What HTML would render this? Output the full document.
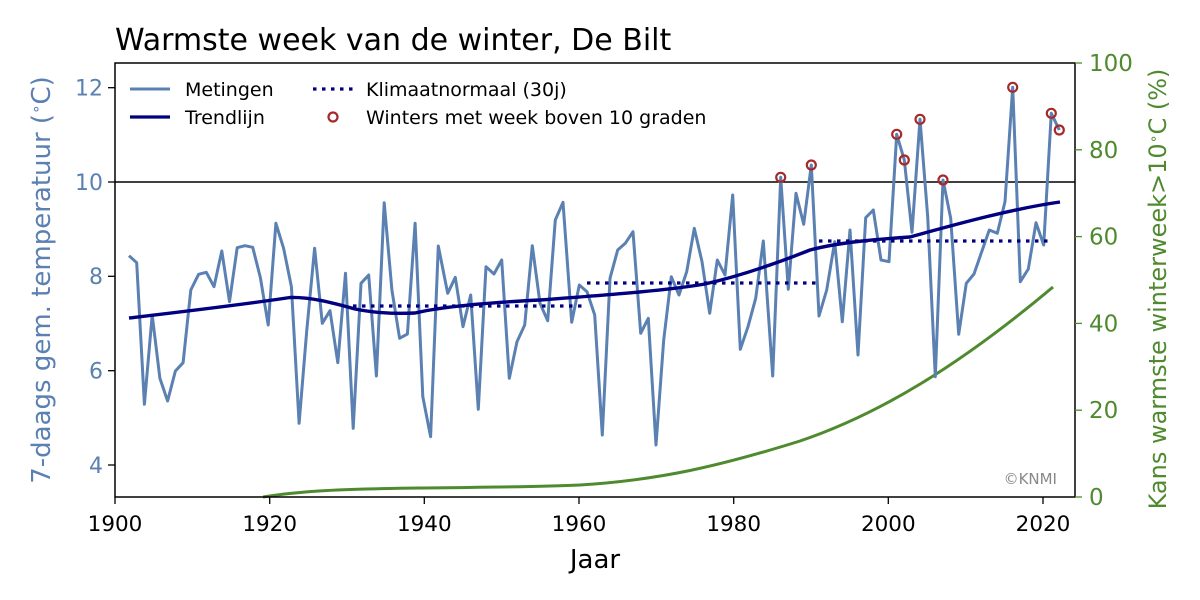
<!DOCTYPE html>
<html><head><meta charset="utf-8"><style>body{margin:0;background:#fff}svg{display:block}text{font-family:"DejaVu Sans","Liberation Sans",sans-serif}</style></head><body>
<svg width="1200" height="600" viewBox="0 0 1200 600" xmlns="http://www.w3.org/2000/svg">
<rect width="1200" height="600" fill="#fff"/>
<text x="115" y="50" font-size="30" fill="#000">Warmste week van de winter, De Bilt</text>
<line x1="115" y1="182" x2="1075" y2="182" stroke="#000" stroke-width="1.5"/>
<g fill="none" stroke-linejoin="round">
<path stroke="#4f8a2f" stroke-width="3" d="M263,497 C300,491 340,489 420,488 C500,487 540,487 580,485 C660,480 720,466 800,441 C880,414 960,365 1053,287"/>
<polyline stroke="#5b80b2" stroke-width="3" points="129,255.7 136.7,262.7 144.4,404.3 152.2,315 159.9,378.3 167.6,401 175.4,371 183.1,362.7 190.8,290 198.6,274.3 206.3,272.3 214,286.7 221.8,251 229.5,301.7 237.2,247.7 245,245.7 252.7,247.3 260.4,277.7 268.2,325 275.9,223.3 283.6,248.3 291.4,286.7 299.1,423.3 306.8,330 314.6,248.3 322.3,323.3 330,310.7 337.8,362.7 345.5,273.3 353.2,428.3 361,283.3 368.7,275 376.4,376 384.2,202.7 391.9,290 399.6,338.3 407.4,334 415.1,223.3 422.8,396.7 430.6,436.7 438.3,246 447.7,293.3 455.3,277.3 463,326.7 470.7,295 478.3,409.3 486,266.7 494,274 501.7,260 509.3,378.3 517,341.7 524.7,325 532.3,245.7 540,303.3 547.7,320.7 555.3,220 563,202.3 571.7,322.3 579.3,285 587,291.7 594.7,315 602.3,435 610,278.3 617.7,250 625.3,243.3 633,231.7 640.7,333.3 648.3,318.3 656,445 663.7,340 671.3,276.7 679,295 686.7,271.7 694.3,228.3 702,261.7 709.7,313.3 717.3,260 725,275 732.7,195 740.3,349.3 748,326.7 755.7,298.3 763.3,241 772.7,376 780.7,177.3 788.3,289.3 796,193.3 803.7,224.3 811.3,165 819,316 826.7,290 834.7,241.7 842.3,321.7 850,230 858,355 865.7,217.7 873.3,210 881,260 889,261.7 896.7,134.3 904.3,160 912,232.3 920,119.3 927.7,216.7 935.3,376.7 943,180 950.7,218.3 958.7,334.3 966.3,283.3 974,274 981.7,251.7 989.3,230 997.3,233.3 1005,201.7 1012.7,87.3 1020.3,281.7 1028.3,269 1036,222.7 1043.7,245 1051.3,113.3 1059.3,130"/>
<path stroke="#000080" stroke-width="3.4" d="M129,318 C180,312 240,305 290,297.5 C310,297 330,302 355,309 C375,313 395,314 415,313 C440,307 480,303 540,300 C620,294 670,290 705,284 C740,276 780,262 810,250 C840,242 880,239 910,237 C950,226 1010,209 1060,202"/>
<g stroke="#000080" stroke-width="3.2" stroke-dasharray="3.5,5.5">
<line x1="353" y1="306" x2="587" y2="306"/>
<line x1="587" y1="283" x2="819" y2="283"/>
<line x1="819" y1="241" x2="1051" y2="241"/>
</g>
<g stroke="#a52a2a" stroke-width="2.2">
<circle cx="780.7" cy="177.3" r="4.5"/><circle cx="811.3" cy="165" r="4.5"/><circle cx="896.7" cy="134.3" r="4.5"/><circle cx="904.3" cy="160" r="4.5"/><circle cx="920" cy="119.3" r="4.5"/><circle cx="943" cy="180" r="4.5"/><circle cx="1012.7" cy="87.3" r="4.5"/><circle cx="1051.3" cy="113.3" r="4.5"/><circle cx="1059.3" cy="130" r="4.5"/>
</g>
</g>
<rect x="115" y="63" width="960" height="434" fill="none" stroke="#000" stroke-width="1.5"/>
<g stroke="#000" stroke-width="1.3">
<line x1="115" y1="497" x2="115" y2="504"/><line x1="269.7" y1="497" x2="269.7" y2="504"/><line x1="424.3" y1="497" x2="424.3" y2="504"/><line x1="579" y1="497" x2="579" y2="504"/><line x1="733.7" y1="497" x2="733.7" y2="504"/><line x1="888.3" y1="497" x2="888.3" y2="504"/><line x1="1043" y1="497" x2="1043" y2="504"/>
</g>
<g font-size="21.5" fill="#000" text-anchor="middle">
<text x="115" y="531">1900</text><text x="269.7" y="531">1920</text><text x="424.3" y="531">1940</text><text x="579" y="531">1960</text><text x="733.7" y="531">1980</text><text x="888.3" y="531">2000</text><text x="1043" y="531">2020</text>
</g>
<text x="595" y="568" font-size="26" text-anchor="middle">Jaar</text>
<g stroke="#000" stroke-width="1.3">
<line x1="108" y1="87.7" x2="115" y2="87.7"/><line x1="108" y1="182" x2="115" y2="182"/><line x1="108" y1="276.3" x2="115" y2="276.3"/><line x1="108" y1="370.7" x2="115" y2="370.7"/><line x1="108" y1="465" x2="115" y2="465"/>
</g>
<g font-size="22" fill="#5b80b2" text-anchor="end">
<text x="103" y="95.5">12</text><text x="103" y="190">10</text><text x="103" y="284">8</text><text x="103" y="378.5">6</text><text x="103" y="473">4</text>
</g>
<text transform="translate(50,280) rotate(-90)" font-size="26" fill="#5b80b2" text-anchor="middle">7-daags gem. temperatuur (<tspan baseline-shift="super" font-size="15">∘</tspan>C)</text>
<g stroke="#4f8a2f" stroke-width="1.3">
<line x1="1075" y1="63" x2="1082" y2="63"/><line x1="1075" y1="149.8" x2="1082" y2="149.8"/><line x1="1075" y1="236.6" x2="1082" y2="236.6"/><line x1="1075" y1="323.4" x2="1082" y2="323.4"/><line x1="1075" y1="410.2" x2="1082" y2="410.2"/><line x1="1075" y1="497" x2="1082" y2="497"/>
</g>
<g font-size="23" fill="#4f8a2f">
<text x="1089" y="71">100</text><text x="1089" y="158">80</text><text x="1089" y="244.5">60</text><text x="1089" y="331.5">40</text><text x="1089" y="418">20</text><text x="1089" y="505">0</text>
</g>
<text transform="translate(1166,289) rotate(-90)" font-size="24" fill="#4f8a2f" text-anchor="middle">Kans warmste winterweek&gt;10<tspan baseline-shift="super" font-size="14">∘</tspan>C (%)</text>
<text x="1057" y="484" font-size="15" fill="#888" text-anchor="end">©KNMI</text>
<line x1="130" y1="89" x2="170" y2="89" stroke="#5b80b2" stroke-width="3"/>
<text x="185" y="96" font-size="19">Metingen</text>
<line x1="130" y1="117" x2="170" y2="117" stroke="#000080" stroke-width="3.2"/>
<text x="185" y="124" font-size="19">Trendlijn</text>
<line x1="313" y1="89" x2="353" y2="89" stroke="#000080" stroke-width="3.2" stroke-dasharray="3.5,5.5"/>
<text x="366" y="96" font-size="19">Klimaatnormaal (30j)</text>
<circle cx="333" cy="117" r="4.5" fill="none" stroke="#a52a2a" stroke-width="2.2"/>
<text x="366" y="124" font-size="19">Winters met week boven 10 graden</text>
</svg>
</body></html>
